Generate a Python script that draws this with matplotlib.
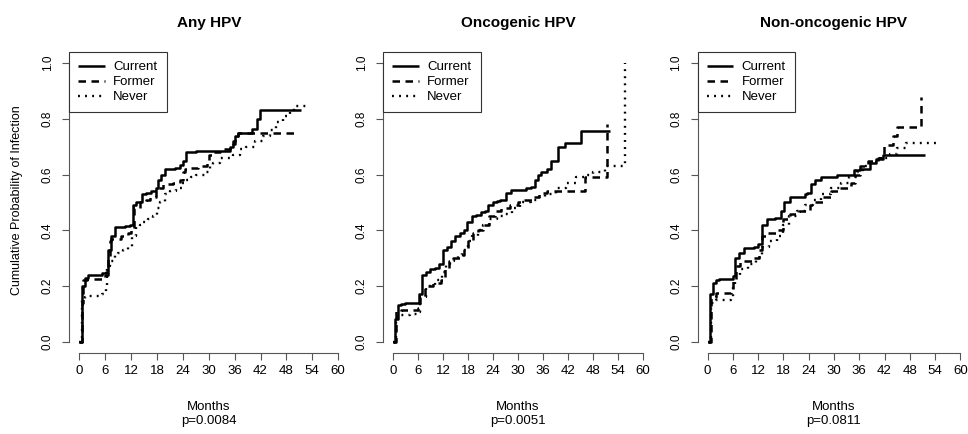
import matplotlib
matplotlib.use("Agg")
import matplotlib.pyplot as plt
from matplotlib import font_manager as fm
from matplotlib.transforms import blended_transform_factory

names = {f.name for f in fm.fontManager.ttflist}
BASE = "Liberation Sans" if "Liberation Sans" in names else "DejaVu Sans"
NARROW = "Liberation Sans Narrow" if "Liberation Sans Narrow" in names else BASE
plt.rcParams["font.family"] = [BASE, "DejaVu Sans"]

titles = ["Any HPV", "Oncogenic HPV", "Non-oncogenic HPV"]
pvalues = ["p=0.0084", "p=0.0051", "p=0.0811"]
groups = ["Current", "Former", "Never"]
xticks = [0, 6, 12, 18, 24, 30, 36, 42, 48, 54, 60]
yticks = [0.0, 0.2, 0.4, 0.6, 0.8, 1.0]

# ---- Any HPV ----
any_cur_t = [0, 0.3, 0.6, 1.2, 2.0, 5.3, 6.1, 6.6, 7.3, 8.2, 10.5, 11.7, 12.4, 13.2, 14.6, 15.5,
             16.7, 17.7, 18.3, 19.0, 19.8, 22.1, 23.3, 24.1, 24.7, 27.1, 35.0, 35.6, 36.0, 36.8,
             40.1, 41.2, 41.8, 51.5]
any_cur_v = [0, 0.0, 0.20, 0.23, 0.24, 0.245, 0.25, 0.33, 0.38, 0.41, 0.415, 0.42, 0.49, 0.50,
             0.53, 0.535, 0.54, 0.55, 0.58, 0.60, 0.62, 0.625, 0.635, 0.65, 0.68, 0.685, 0.70,
             0.71, 0.74, 0.75, 0.765, 0.80, 0.83, 0.83]
any_for_t = [0, 0.3, 0.5, 0.85, 1.8, 5.9, 6.1, 6.6, 7.0, 7.4, 9.7, 11.3, 12.0, 12.6, 14.0, 15.5,
             16.3, 17.8, 18.3, 19.4, 21.7, 23.3, 24.0, 24.4, 25.6, 27.5, 29.5, 30.0, 31.0, 32.5,
             34.9, 35.6, 36.0, 36.8, 50.0]
any_for_v = [0, 0.0, 0.14, 0.22, 0.225, 0.24, 0.24, 0.30, 0.36, 0.37, 0.38, 0.39, 0.40, 0.48,
             0.50, 0.51, 0.52, 0.54, 0.55, 0.565, 0.57, 0.58, 0.61, 0.62, 0.625, 0.63, 0.65, 0.67,
             0.68, 0.69, 0.70, 0.72, 0.74, 0.75, 0.75]
any_nev_t = [0, 0.3, 0.7, 1.2, 2.0, 5.3, 6.1, 6.4, 7.0, 8.2, 9.0, 10.1, 11.3, 12.3, 13.1, 14.0,
             14.8, 15.9, 17.1, 18.0, 18.8, 19.8, 21.0, 22.5, 23.7, 24.8, 26.0, 27.1, 29.1, 30.2,
             31.0, 32.6, 35.7, 37.2, 38.7, 40.7, 42.6, 44.2, 45.7, 47.3, 48.8, 49.8, 53.4]
any_nev_v = [0, 0.0, 0.15, 0.16, 0.165, 0.17, 0.20, 0.27, 0.29, 0.31, 0.32, 0.33, 0.34, 0.38,
             0.41, 0.42, 0.43, 0.44, 0.45, 0.48, 0.50, 0.53, 0.54, 0.55, 0.57, 0.58, 0.59, 0.60,
             0.61, 0.63, 0.64, 0.66, 0.67, 0.69, 0.70, 0.72, 0.74, 0.76, 0.79, 0.81, 0.83, 0.845,
             0.845]

# ---- Oncogenic HPV ----
onc_cur_t = [0, 0.1, 0.5, 1.2, 2.0, 2.8, 6.3, 7.0, 7.8, 8.8, 10.0, 11.0, 12.0, 13.0, 14.0, 14.8,
             16.0, 17.0, 17.8, 19.0, 20.0, 21.0, 22.0, 22.8, 24.0, 25.0, 25.6, 27.0, 28.4, 32.0,
             33.0, 34.0, 34.8, 35.6, 37.0, 38.0, 39.6, 41.2, 45.2, 52.0]
onc_cur_v = [0, 0.0, 0.08, 0.13, 0.135, 0.14, 0.17, 0.24, 0.25, 0.26, 0.265, 0.28, 0.33, 0.34,
             0.36, 0.38, 0.39, 0.40, 0.43, 0.45, 0.455, 0.465, 0.47, 0.49, 0.50, 0.505, 0.51,
             0.535, 0.545, 0.55, 0.555, 0.58, 0.60, 0.61, 0.62, 0.65, 0.70, 0.715, 0.755, 0.755]
onc_for_t = [0, 0.1, 0.8, 2.0, 6.0, 6.4, 7.6, 9.6, 11.5, 12.5, 13.5, 14.5, 16.0, 17.0, 18.0,
             19.2, 20.4, 21.5, 23.0, 24.4, 26.0, 28.0, 30.0, 31.5, 33.5, 35.0, 37.0, 46.0, 51.3]
onc_for_v = [0, 0.0, 0.11, 0.115, 0.12, 0.16, 0.20, 0.21, 0.22, 0.26, 0.29, 0.30, 0.31, 0.33,
             0.36, 0.39, 0.40, 0.42, 0.45, 0.47, 0.48, 0.49, 0.50, 0.51, 0.52, 0.535, 0.54, 0.59,
             0.78]
onc_nev_t = [0, 0.1, 0.8, 2.0, 4.0, 6.0, 6.4, 8.0, 10.0, 11.8, 12.6, 13.6, 14.6, 15.6, 16.5,
             18.0, 19.0, 20.4, 21.6, 23.0, 25.0, 26.6, 28.5, 30.5, 33.0, 35.0, 36.5, 39.0, 41.5,
             44.0, 46.0, 48.0, 50.8, 55.6]
onc_nev_v = [0, 0.0, 0.09, 0.095, 0.10, 0.105, 0.16, 0.20, 0.22, 0.25, 0.28, 0.29, 0.30, 0.31,
             0.33, 0.36, 0.38, 0.40, 0.42, 0.44, 0.45, 0.46, 0.48, 0.50, 0.51, 0.52, 0.53, 0.55,
             0.57, 0.59, 0.60, 0.61, 0.63, 1.0]

# ---- Non-oncogenic HPV ----
non_cur_t = [0, 0.2, 0.6, 1.2, 2.0, 2.8, 6.0, 6.5, 7.5, 8.6, 11.0, 12.0, 12.8, 14.2, 16.0, 17.4,
             18.2, 19.6, 23.0, 23.5, 24.6, 25.6, 27.0, 30.8, 34.8, 36.2, 38.5, 40.0, 41.7, 51.7]
non_cur_v = [0, 0.0, 0.17, 0.21, 0.22, 0.225, 0.235, 0.30, 0.32, 0.335, 0.34, 0.35, 0.42, 0.44,
             0.445, 0.47, 0.50, 0.52, 0.53, 0.535, 0.565, 0.58, 0.59, 0.60, 0.615, 0.62, 0.64,
             0.655, 0.67, 0.67]
non_for_t = [0, 0.2, 0.8, 2.0, 5.6, 6.0, 6.8, 7.6, 10.5, 12.2, 13.0, 14.2, 16.5, 18.0, 19.6,
             21.8, 24.2, 25.5, 27.4, 29.4, 31.5, 34.0, 35.0, 36.2, 38.0, 40.5, 41.2, 41.9, 44.1,
             44.9, 50.6]
non_for_v = [0, 0.0, 0.16, 0.175, 0.18, 0.22, 0.27, 0.29, 0.30, 0.33, 0.38, 0.39, 0.40, 0.44,
             0.46, 0.47, 0.49, 0.50, 0.52, 0.54, 0.55, 0.57, 0.60, 0.63, 0.65, 0.66, 0.67, 0.705,
             0.74, 0.77, 0.88]
non_nev_t = [0, 0.2, 0.8, 2.0, 5.6, 6.1, 6.6, 7.6, 9.5, 11.4, 12.8, 14.6, 16.4, 18.0, 19.4,
             21.2, 23.2, 25.0, 27.0, 29.4, 31.6, 33.6, 35.4, 37.0, 38.6, 41.0, 43.4, 45.0, 47.0,
             54.4]
non_nev_v = [0, 0.0, 0.14, 0.15, 0.155, 0.20, 0.24, 0.26, 0.28, 0.30, 0.34, 0.36, 0.38, 0.42,
             0.45, 0.47, 0.49, 0.51, 0.53, 0.55, 0.57, 0.59, 0.61, 0.63, 0.645, 0.66, 0.675,
             0.695, 0.715, 0.715]

panels = [
    [(any_cur_t, any_cur_v), (any_for_t, any_for_v), (any_nev_t, any_nev_v)],
    [(onc_cur_t, onc_cur_v), (onc_for_t, onc_for_v), (onc_nev_t, onc_nev_v)],
    [(non_cur_t, non_cur_v), (non_for_t, non_for_v), (non_nev_t, non_nev_v)],
]
styles = [
    dict(linestyle="-", lw=1.8),
    dict(linestyle=(0, (3.0, 2.2)), lw=1.8),
    dict(linestyle=(0, (0.8, 2.2)), lw=1.7),
]

W, H = 968, 434
fig = plt.figure(figsize=(W / 100, H / 100), dpi=100)
# pixel boxes (left, right) of plot regions; top 52, bottom 352.8
boxes = [(69, 348.5), (383, 653), (697.5, 970.5)]
top, bot = 52, 352.8

for i, (l, r) in enumerate(boxes):
    ax = fig.add_axes([l / W, (H - bot) / H, (r - l) / W, (bot - top) / H])
    ax.set_xlim(-2.4, 62.4)
    ax.set_ylim(-0.04, 1.04)
    for (t, v), st, g in zip(panels[i], styles, groups):
        ax.step(t, v, where="post", color="black", label=g,
                solid_capstyle="butt", dash_capstyle="butt", **st)
    for s in ["top", "right"]:
        ax.spines[s].set_visible(False)
    for s in ["left", "bottom"]:
        ax.spines[s].set_color("#555555")
        ax.spines[s].set_linewidth(0.8)
    ax.spines["left"].set_bounds(0, 1)
    ax.spines["bottom"].set_bounds(0, 60)
    ax.set_xticks(xticks)
    ax.set_xticklabels([str(x) for x in xticks], fontfamily=NARROW, fontsize=9.5)
    ax.set_yticks(yticks)
    ax.set_yticklabels([f"{y:.1f}" for y in yticks], rotation=90, va="center", fontsize=8.5)
    ax.tick_params(axis="both", length=5, width=0.8, color="#555555")
    ax.tick_params(axis="x", pad=4)
    ax.tick_params(axis="y", pad=6)
    leg = ax.legend(loc="upper left", bbox_to_anchor=(0, 1), borderaxespad=0,
                    fancybox=False, edgecolor="#333333", framealpha=1, fontsize=9.5,
                    handlelength=2.0, handletextpad=0.65, labelspacing=0.2,
                    borderpad=0.7)
    leg.get_frame().set_linewidth(0.8)
    tr = blended_transform_factory(ax.transData, fig.transFigure)
    ax.text(30, 1 - 23 / H, titles[i], transform=tr, ha="center", va="center",
            fontsize=11, fontweight="bold", fontfamily=NARROW)
    ax.text(30, 1 - 407 / H, "Months", transform=tr, ha="center", va="center",
            fontsize=9.5, fontfamily=NARROW)
    ax.text(30, 1 - 421 / H, pvalues[i], transform=tr, ha="center", va="center",
            fontsize=9.5, fontfamily=NARROW)

fig.text(17 / W, 1 - 200 / H, "Cumulative Probability of Infection", rotation=90,
         ha="center", va="center", fontsize=9)

fig.savefig("out.png", dpi=100)
